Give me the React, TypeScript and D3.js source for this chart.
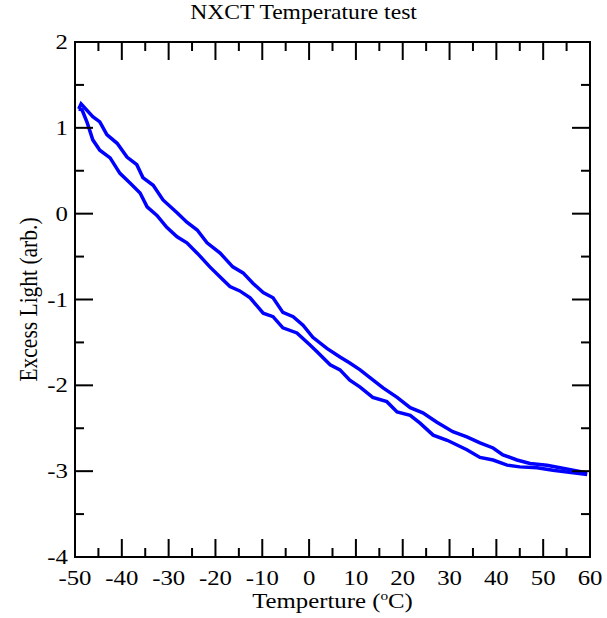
import React from "react";
import * as d3 from "d3";

const title = "NXCT Temperature test";
const xLabel = "Temperture (";
const yLabel = "Excess Light (arb.)";
const xTicks = [-50, -40, -30, -20, -10, 0, 10, 20, 30, 40, 50, 60];
const yTicks = [-4, -3, -2, -1, 0, 1, 2];

const branchA_T = [-49.2, -48.7, -46.2, -44.7, -43.2, -41.0, -38.9, -36.8, -35.5, -33.3, -31.2, -28.2, -26.1, -23.9, -21.8, -19.0, -16.3, -14.1, -12.0, -9.8, -7.7, -5.6, -3.4, -1.3, 0.8, 3.8, 6.6, 8.7, 10.9, 13.0, 15.8, 18.8, 21.6, 24.3, 27.3, 30.7, 33.7, 36.5, 39.3, 41.4, 44.4, 47.2, 50.8, 53.6, 56.4, 59.4];
const branchA_V = [1.22, 1.28, 1.13, 1.07, 0.92, 0.82, 0.66, 0.57, 0.42, 0.33, 0.16, 0.01, -0.10, -0.19, -0.34, -0.46, -0.62, -0.69, -0.81, -0.92, -0.98, -1.15, -1.20, -1.30, -1.44, -1.57, -1.67, -1.74, -1.82, -1.91, -2.03, -2.14, -2.26, -2.32, -2.43, -2.54, -2.60, -2.67, -2.73, -2.81, -2.87, -2.91, -2.93, -2.96, -2.99, -3.02];

const branchB_T = [-49.2, -48.5, -47.4, -46.2, -44.7, -42.5, -40.4, -38.3, -36.1, -34.6, -32.5, -30.4, -28.2, -26.1, -23.9, -21.2, -18.4, -16.9, -14.8, -12.6, -9.8, -7.7, -5.6, -2.6, 0.2, 1.7, 4.5, 6.6, 8.7, 10.9, 13.6, 16.6, 18.8, 21.6, 23.7, 26.5, 29.5, 33.7, 36.5, 39.3, 42.3, 45.0, 48.7, 52.1, 56.4, 59.4];
const branchB_V = [1.22, 1.21, 1.06, 0.86, 0.74, 0.65, 0.47, 0.36, 0.24, 0.08, -0.02, -0.16, -0.27, -0.34, -0.46, -0.62, -0.77, -0.85, -0.90, -0.98, -1.16, -1.20, -1.33, -1.39, -1.53, -1.61, -1.76, -1.82, -1.94, -2.02, -2.14, -2.19, -2.31, -2.35, -2.44, -2.58, -2.64, -2.75, -2.84, -2.87, -2.93, -2.95, -2.96, -2.99, -3.02, -3.04];

const W = 607;
const H = 618;
const L = 75, R = 590, T = 42, B = 557;
const FONT = '"Liberation Serif", "Times New Roman", Times, serif';
const SX = 1.18;

export default function App() {
  const x = d3.scaleLinear().domain([-50, 60]).range([L, R]);
  const y = d3.scaleLinear().domain([-4, 2]).range([B, T]);
  const line = d3
    .line<[number, number]>()
    .x((d) => x(d[0]))
    .y((d) => y(d[1]));
  const a: [number, number][] = branchA_T.map((t, i) => [t, branchA_V[i]]);
  const b: [number, number][] = branchB_T.map((t, i) => [t, branchB_V[i]]);
  const xMinor = d3.range(-45, 60, 10);
  const yMinor = d3.range(-3.5, 2, 1);
  const MAJ = 18, MIN = 9;
  return (
    <svg width={W} height={H} style={{ position: "absolute", left: 0, top: 0, background: "#fff", fontFamily: FONT }}>
      <text transform={`translate(${W / 2}, 19) scale(${SX}, 1)`} textAnchor="middle" fontSize={20} style={{ fontFamily: FONT }}>{title}</text>
      <defs>
        <clipPath id="clip"><rect x={L} y={T} width={R - L} height={B - T} /></clipPath>
      </defs>
      <g clipPath="url(#clip)">
        <path d={line(a) || ""} fill="none" stroke="#0000ff" strokeWidth={3.5} />
        <path d={line(b) || ""} fill="none" stroke="#0000ff" strokeWidth={3.5} />
      </g>
      <g stroke="#000" strokeWidth={2}>
        {xTicks.map((t) => (
          <g key={"xt" + t}>
            <line x1={x(t)} x2={x(t)} y1={B} y2={B - MAJ} />
            <line x1={x(t)} x2={x(t)} y1={T} y2={T + MAJ} />
          </g>
        ))}
        {xMinor.map((t) => (
          <g key={"xm" + t}>
            <line x1={x(t)} x2={x(t)} y1={B} y2={B - MIN} />
            <line x1={x(t)} x2={x(t)} y1={T} y2={T + MIN} />
          </g>
        ))}
        {yTicks.map((t) => (
          <g key={"yt" + t}>
            <line x1={L} x2={L + MAJ} y1={y(t)} y2={y(t)} />
            <line x1={R} x2={R - MAJ} y1={y(t)} y2={y(t)} />
          </g>
        ))}
        {yMinor.map((t) => (
          <g key={"ym" + t}>
            <line x1={L} x2={L + MIN} y1={y(t)} y2={y(t)} />
            <line x1={R} x2={R - MIN} y1={y(t)} y2={y(t)} />
          </g>
        ))}
        <rect x={L} y={T} width={R - L} height={B - T} fill="none" />
      </g>
      {xTicks.map((t) => (
        <text key={"xl" + t} transform={`translate(${x(t)}, 585) scale(${SX}, 1)`} textAnchor="middle" fontSize={21} style={{ fontFamily: FONT }}>{t}</text>
      ))}
      {yTicks.map((t) => (
        <text key={"yl" + t} transform={`translate(${L - 7}, ${y(t) + 7}) scale(${SX}, 1)`} textAnchor="end" fontSize={21} style={{ fontFamily: FONT }}>{t}</text>
      ))}
      <text transform={`translate(${(L + R) / 2}, 608) scale(${SX}, 1)`} textAnchor="middle" fontSize={21} style={{ fontFamily: FONT }}>
        {xLabel}
        <tspan fontSize={13} dy={-8}>o</tspan>
        <tspan dy={8}>C)</tspan>
      </text>
      <text transform={`translate(37, ${(T + B) / 2}) scale(${SX}, 1) rotate(-90)`} textAnchor="middle" fontSize={21.5} style={{ fontFamily: FONT }}>{yLabel}</text>
    </svg>
  );
}
